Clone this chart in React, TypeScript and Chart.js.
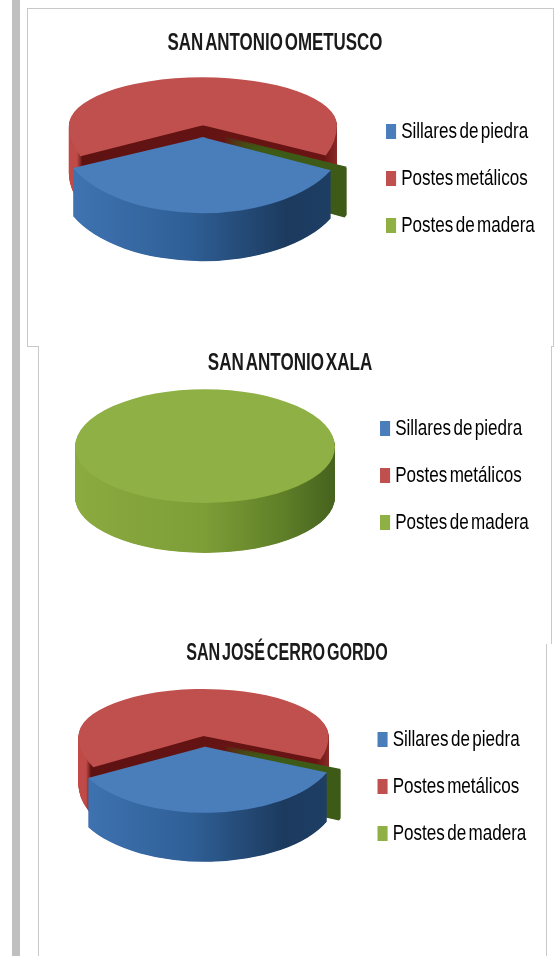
import React, { useEffect, useRef } from "react";
import { Chart, registerables } from "chart.js";

Chart.register(...registerables);

const categories = ["Sillares de piedra", "Postes metálicos", "Postes de madera"];
const ometusco = [36.2, 63.2, 0.6];
const xala = [0, 0, 100];
const cerroGordo = [35.8, 63.6, 0.6];
const sliceColors = ["#4a7ebb", "#c0504d", "#8fb044"];
const wallStops: [number, string][][] = [
  [[0, "#4075b4"], [0.45, "#2f5f96"], [0.8, "#1c3a5e"], [1, "#1f3f66"]],
  [[0, "#bf4a47"], [0.03, "#bf4a47"], [0.05, "#5e1212"], [0.95, "#6a1414"], [1, "#8a2826"]],
  [[0, "#3d5a16"], [1, "#3d5a16"]],
];
const wallStopsFullGreen: [number, string][] = [[0, "#8bab40"], [0.5, "#7d9d37"], [0.8, "#5f7f28"], [1, "#46621e"]];

const FONT = "'Liberation Sans', Arimo, sans-serif";
const LEGEND_SCALE = 0.775;
const LEGEND_PADDING = 25;

const panels = [
  { title: "SAN ANTONIO OMETUSCO", values: ometusco, left: 10, top: 27, width: 530, height: 303, cx: 203, cy: 131, radius: 134, kBack: 0.358, kFront: 0.567, depth: 48, explode: [11, 16, 23], stretch: [1.06, 1, 1], rotation: 115.7, titleScale: 0.705, legendX: 389.5 },
  { title: "SAN ANTONIO XALA", values: xala, left: 46, top: 347, width: 488, height: 257, cx: 205, cy: 447, radius: 130, kBack: 0.445, kFront: 0.43, depth: 50, explode: [0, 0, 0], stretch: [1, 1, 1], rotation: 0, titleScale: 0.71, legendX: 383.5 },
  { title: "SAN JOSÉ CERRO GORDO", values: cerroGordo, left: 42, top: 637, width: 490, height: 299, cx: 204.5, cy: 741.5, radius: 125, kBack: 0.376, kFront: 0.528, depth: 49, explode: [10, 14.6, 21], stretch: [1.06, 1, 1], rotation: 113, titleScale: 0.672, legendX: 381 },
];

const lines = [
  { left: 12, top: 0, width: 8, height: 956, background: "#c0c0c0" },
  { left: 27, top: 8, width: 526, height: 1 },
  { left: 27, top: 8, width: 1, height: 338 },
  { left: 553, top: 8, width: 1, height: 338 },
  { left: 27, top: 346, width: 11, height: 1 },
  { left: 551, top: 346, width: 3, height: 1 },
  { left: 38, top: 346, width: 1, height: 610 },
  { left: 551, top: 346, width: 1, height: 298 },
  { left: 546, top: 644, width: 1, height: 312 },
];

function gradientFor(ctx: CanvasRenderingContext2D, x0: number, x1: number, stops: [number, string][]) {
  const g = ctx.createLinearGradient(x0, 0, x1, 0);
  stops.forEach(([p, c]) => g.addColorStop(p, c));
  return g;
}

const piePlugin = {
  id: "extrudedPie",
  beforeDraw(chart: any, _args: any, opts: any) {
    if (chart.$squeezed) return;
    chart.$squeezed = true;
    const ctx: CanvasRenderingContext2D & { wordSpacing?: string } = chart.ctx;
    const titleBox = chart.titleBlock;
    const legendBox = chart.legend;
    const drawTitle = titleBox.draw.bind(titleBox);
    titleBox.draw = (area: any) => {
      ctx.save();
      ctx.wordSpacing = "-4px";
      ctx.translate(chart.width / 2, 0);
      ctx.scale(opts.titleScale, 1);
      ctx.translate(-chart.width / 2, 0);
      drawTitle(area);
      ctx.restore();
    };
    const drawLegend = legendBox.draw.bind(legendBox);
    legendBox.draw = (area: any) => {
      ctx.save();
      ctx.wordSpacing = "-3px";
      ctx.translate(opts.legendX - LEGEND_PADDING * LEGEND_SCALE, 0);
      ctx.scale(LEGEND_SCALE, 1);
      ctx.translate(-legendBox.left, 0);
      drawLegend(area);
      ctx.restore();
    };
  },
  beforeDatasetDraw(chart: any, args: any, opts: any) {
    const ctx: CanvasRenderingContext2D = chart.ctx;
    const { cx, cy, kBack, kFront, depth, explode, stretch, full } = opts;
    const arcs: any[] = chart.getDatasetMeta(args.index).data;
    const W = chart.width;
    const H = chart.height;

    const face = (arc: any, i: number, d: number, ox: number, oy: number) => {
      [
        { y: 0, h: oy + d + 0.5, k: kBack },
        { y: oy + d - 0.5, h: H, k: kFront },
      ].forEach((part) => {
        ctx.save();
        ctx.beginPath();
        ctx.rect(0, part.y, W, part.h);
        ctx.clip();
        ctx.translate(ox, oy + d);
        ctx.scale(stretch[i], part.k);
        ctx.translate(-arc.x, -arc.y);
        arc.draw(ctx);
        ctx.restore();
      });
    };

    const order = arcs
      .map((arc, i) => ({ arc, i, mid: (arc.startAngle + arc.endAngle) / 2 }))
      .sort((a, b) => Math.sin(a.mid) - Math.sin(b.mid));

    order.forEach(({ arc, i, mid }) => {
      if (arc.circumference === 0) return;
      const base = arc.options;
      const r = arc.outerRadius;
      const s = Math.sin(mid);
      const ox = cx + Math.cos(mid) * explode[i];
      const oy = cy + s * explode[i] * (s > 0 ? kFront : kBack);
      const wall = gradientFor(ctx, arc.x - r, arc.x + r, full ? wallStopsFullGreen : wallStops[i]);
      arc.options = Object.assign(Object.create(base), { backgroundColor: wall, borderWidth: 0 });
      for (let d = depth; d >= 1; d -= 0.5) face(arc, i, d, ox, oy);
      // the hairline sliver shows only its dark side in the reference
      if (full || i !== 2) arc.options = base;
      face(arc, i, 0, ox, oy);
      arc.options = base;
    });
    return false;
  },
};

function Pie({ p }: { p: (typeof panels)[number] }) {
  const ref = useRef<HTMLCanvasElement>(null);
  useEffect(() => {
    const chart = new Chart(ref.current!, {
      type: "pie",
      plugins: [piePlugin as any],
      data: {
        labels: categories,
        datasets: [{ data: p.values, backgroundColor: sliceColors, borderWidth: 0 } as any],
      },
      options: {
        animation: false,
        responsive: false,
        radius: p.radius,
        rotation: p.rotation,
        plugins: {
          tooltip: { enabled: false },
          title: {
            display: true,
            text: p.title,
            color: "#1a1a1a",
            font: { family: FONT, size: 24, weight: "bold" },
            padding: { top: 2, bottom: 9 },
          },
          legend: {
            position: "right",
            labels: {
              color: "#222",
              font: { family: FONT, size: 22 },
              boxWidth: 4,
              boxHeight: 6,
              padding: LEGEND_PADDING,
              generateLabels: (c: any) =>
                c.data.labels.map((text: string, i: number) => ({
                  text,
                  fillStyle: sliceColors[i],
                  strokeStyle: sliceColors[i],
                  lineWidth: 9,
                  index: i,
                  hidden: false,
                })),
            },
          },
          extrudedPie: {
            cx: p.cx - p.left,
            cy: p.cy - p.top,
            kBack: p.kBack,
            kFront: p.kFront,
            depth: p.depth,
            explode: p.explode,
            stretch: p.stretch,
            full: p.values[2] === 100,
            titleScale: p.titleScale,
            legendX: p.legendX - p.left,
          },
        } as any,
      },
    });
    return () => chart.destroy();
  }, [p]);
  return (
    <canvas
      ref={ref}
      width={p.width}
      height={p.height}
      style={{ position: "absolute", left: p.left, top: p.top, width: p.width, height: p.height, filter: "blur(0.5px)" }}
    />
  );
}

export default function App() {
  return (
    <div style={{ position: "absolute", left: 0, top: 0, width: 560, height: 956, overflow: "hidden", background: "#fff" }}>
      {lines.map((l, i) => (
        <div key={i} style={{ position: "absolute", background: "#c9c9c9", ...l }} />
      ))}
      {panels.map((p) => (
        <Pie key={p.title} p={p} />
      ))}
    </div>
  );
}
